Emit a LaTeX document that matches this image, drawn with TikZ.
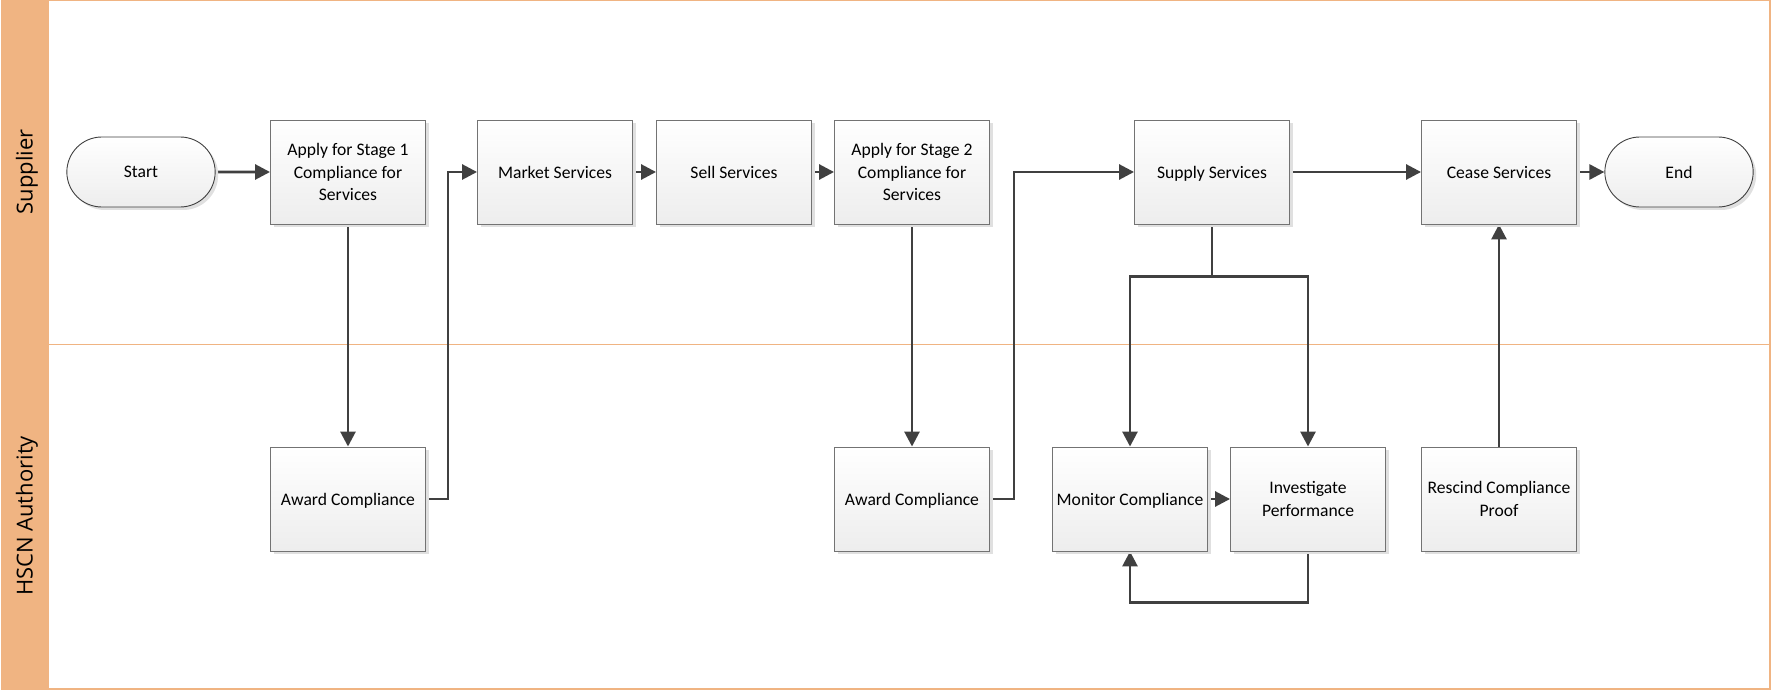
\documentclass[tikz,border=0pt]{standalone}
\usepackage{fontspec}
\setmainfont{Carlito}
\newfontfamily\lanefont{Open Sans}
\usepackage{tikz}
\usetikzlibrary{arrows.meta,shapes.misc,shadows}
\pgfdeclarelayer{bg}
\pgfsetlayers{bg,main}
\definecolor{laneorange}{HTML}{F0B482}
\definecolor{flowgray}{HTML}{404040}
\tikzset{
  task/.style={rectangle, draw=black!55, line width=0.9pt, minimum width=155pt, minimum height=104pt,
    top color=white, bottom color=black!7, align=center, text depth=0pt,
    font=\fontsize{17.6}{22.7}\selectfont,
    drop shadow={shadow xshift=3pt, shadow yshift=-3pt, fill=black!12, opacity=1}},
  term/.style={rounded rectangle, draw=black!75, line width=0.9pt, minimum width=155pt, minimum height=70pt,
    top color=white, bottom color=black!7, font=\fontsize{17.6}{22.7}\selectfont,
    drop shadow={shadow xshift=3pt, shadow yshift=-3pt, fill=black!12, opacity=1}},
  flow/.style={draw=flowgray, line width=2.8pt, -{Triangle[length=15pt,width=15pt]}},
  lanetitle/.style={rotate=90, font=\lanefont\fontsize{22}{27}\selectfont}
}

\begin{document}
\begin{tikzpicture}[x=1pt, y=-1pt]
        \useasboundingbox (0,0) rectangle (1772,692);
        \node (start) [term] at (141,172) {Start};
        \node (apply1) [task] at (348,172) {Apply for Stage 1\\Compliance for\\Services};
        \node (award1) [task] at (348,499) {Award Compliance};
        \node (market) [task] at (555,172) {Market Services};
        \node (sell) [task] at (734,172) {Sell Services};
        \node (apply2) [task] at (912,172) {Apply for Stage 2\\Compliance for\\Services};
        \node (award2) [task] at (912,499) {Award Compliance};
        \node (supply) [task] at (1212,172) {Supply Services};
        \node (monitor) [task] at (1130,499) {Monitor Compliance};
        \node (invest) [task] at (1308,499) {Investigate\\Performance};
        \node (cease) [task] at (1499,172) {Cease Services};
        \node (rescind) [task] at (1499,499) {Rescind Compliance\\Proof};
        \node (end) [term] at (1679,172) {End};
        \begin{pgfonlayer}{bg}
                % swimlanes
                \fill [laneorange] (2,0) rectangle (49,689);
                \draw [laneorange, line width=1.2pt] (2,0) rectangle (1770,689);
                \draw [laneorange, line width=1pt] (49,345) -- (1770,345);
                \node (supplier) [lanetitle] at (27,172) {Supplier};
                \node (hscn) [lanetitle] at (27,516) {HSCN Authority};
                % flows
                \draw [flow] (start) -- (apply1);
                \draw [flow] (apply1) -- (award1);
                \draw [flow] (award1.east) -- ++(22,0) |- (market.west);
                \draw [flow] (market) -- (sell);
                \draw [flow] (sell) -- (apply2);
                \draw [flow] (apply2) -- (award2);
                \draw [flow] (award2.east) -- ++(24,0) |- (supply.west);
                \draw [flow] (supply.south) -- ++(0,52) -| (monitor.north);
                \draw [flow] (supply.south) -- ++(0,52) -| (invest.north);
                \draw [flow] (monitor) -- (invest);
                \draw [flow] (invest.south) -- ++(0,51) -| (monitor.south);
                \draw [flow] (supply) -- (cease);
                \draw [flow] (rescind) -- (cease);
                \draw [flow] (cease) -- (end);
        \end{pgfonlayer}
\end{tikzpicture}
\end{document}
